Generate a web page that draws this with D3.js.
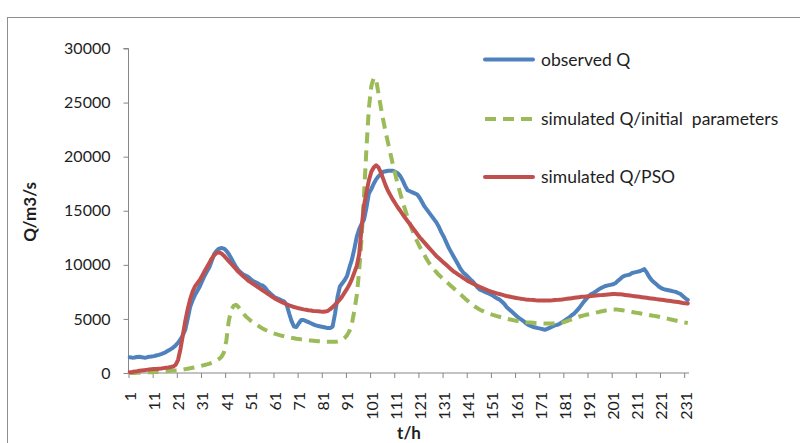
<!DOCTYPE html>
<html>
<head>
<meta charset="utf-8">
<script src="https://cdn.jsdelivr.net/npm/d3@7"></script>
<style>
  html, body { margin: 0; padding: 0; background: #fff; }
  svg { display: block; }
  text { font-family: Lato, "Open Sans", sans-serif; fill: #1e1e1e; }
</style>
</head>
<body>
<svg id="chart" width="800" height="443"></svg>
<script>
// Hourly discharge, t = 1 … 232 h
const observedQ = [
  1450,1420,1430,1480,1500,1460,1420,1440,1500,1520,
  1560,1620,1680,1750,1830,1950,2080,2200,2350,2550,
  2800,3100,3500,4000,5000,6100,6700,7200,7600,8000,
  8500,9000,9400,9800,10400,11000,11300,11500,11550,11500,
  11300,11000,10600,10200,9800,9500,9300,9100,9000,8900,
  8700,8500,8400,8300,8150,8100,7900,7600,7400,7200,
  7000,6900,6800,6700,6600,6300,5500,4800,4300,4250,
  4600,4900,4900,4800,4700,4600,4500,4400,4350,4300,
  4250,4200,4150,4150,4300,5500,7000,8000,8300,8600,
  9000,9800,10500,11500,12600,13300,13800,14200,15300,16600,
  17000,17500,17900,18200,18400,18600,18650,18700,18700,18700,
  18600,18450,18200,17800,17300,16900,16800,16700,16600,16500,
  16200,15800,15400,15100,14800,14500,14200,13900,13500,13000,
  12600,12100,11600,11200,10800,10400,10000,9600,9300,9100,
  8900,8650,8450,8200,7900,7700,7600,7500,7400,7300,
  7200,7050,6900,6800,6600,6400,6100,5900,5700,5500,
  5300,5100,4950,4800,4600,4450,4350,4250,4200,4150,
  4100,4050,4000,4100,4200,4300,4400,4450,4550,4700,
  4850,5000,5150,5350,5500,5750,6000,6300,6600,6850,
  7100,7300,7400,7550,7700,7850,7950,8050,8100,8150,
  8200,8300,8500,8700,8900,9000,9050,9100,9250,9300,
  9350,9400,9500,9600,9300,8900,8600,8400,8200,8000,
  7850,7750,7700,7650,7600,7550,7500,7400,7300,7100,
  6900,6750
];

const simulatedInitial = [
  0,0,10,20,30,40,50,60,70,80,
  90,100,110,120,140,160,180,200,220,240,
  260,290,320,360,400,440,480,520,560,620,
  680,740,800,870,950,1050,1150,1300,1500,1900,
  3000,4800,5800,6200,6300,6100,5800,5500,5250,5050,
  4850,4700,4550,4400,4250,4120,4000,3900,3800,3720,
  3640,3570,3500,3440,3390,3340,3290,3250,3210,3170,
  3140,3110,3080,3050,3020,3000,2980,2960,2940,2920,
  2900,2890,2880,2880,2880,2890,2920,2980,3080,3250,
  3500,3900,4600,5800,7200,9500,12500,16500,20800,24500,
  26500,27300,27100,25800,24500,23300,22200,21200,20200,19200,
  18300,17400,16600,15800,15100,14400,13800,13200,12650,12150,
  11700,11300,10900,10500,10150,9850,9550,9300,9050,8850,
  8650,8450,8250,8050,7850,7650,7450,7250,7050,6850,
  6650,6450,6280,6120,5980,5850,5750,5650,5560,5480,
  5400,5330,5260,5200,5140,5080,5020,4970,4920,4870,
  4830,4790,4760,4730,4700,4680,4660,4640,4620,4610,
  4600,4590,4580,4580,4580,4580,4590,4600,4620,4660,
  4720,4800,4880,4960,5040,5120,5200,5270,5330,5380,
  5430,5480,5530,5580,5630,5680,5730,5780,5820,5860,
  5880,5880,5860,5830,5800,5760,5720,5680,5640,5600,
  5560,5520,5480,5440,5400,5360,5320,5280,5240,5200,
  5150,5100,5050,5000,4950,4900,4850,4800,4750,4700,
  4660,4620
];

const simulatedPSO = [
  80,100,130,160,200,230,260,290,320,340,
  360,380,400,420,450,480,510,550,600,750,
  1200,2200,3500,4800,5900,6800,7500,8000,8300,8600,
  9000,9400,9800,10200,10600,10900,11100,11150,11050,10850,
  10600,10350,10100,9850,9600,9350,9150,8950,8750,8550,
  8400,8250,8100,7950,7800,7650,7500,7350,7200,7050,
  6900,6780,6660,6550,6450,6350,6260,6180,6100,6040,
  5980,5930,5880,5840,5800,5770,5740,5720,5700,5680,
  5670,5680,5750,5900,6100,6300,6550,6800,7100,7450,
  7800,8200,8700,9300,9900,11000,13500,15500,16700,17800,
  18600,19000,19200,19000,18500,17900,17300,16800,16400,16000,
  15650,15300,15000,14650,14350,14050,13750,13450,13150,12850,
  12550,12300,12050,11800,11550,11300,11050,10800,10600,10400,
  10200,10000,9800,9600,9400,9250,9100,8950,8800,8650,
  8500,8400,8280,8160,8050,7950,7850,7750,7660,7580,
  7500,7430,7360,7300,7240,7180,7120,7070,7020,6980,
  6940,6900,6860,6830,6800,6780,6760,6740,6720,6710,
  6700,6700,6700,6700,6710,6720,6740,6760,6780,6800,
  6830,6860,6890,6920,6950,6980,7010,7040,7060,7080,
  7100,7120,7140,7160,7180,7200,7220,7240,7260,7280,
  7300,7300,7290,7270,7250,7220,7190,7160,7130,7100,
  7070,7040,7010,6980,6950,6920,6890,6860,6830,6800,
  6770,6740,6710,6680,6650,6620,6590,6560,6520,6480,
  6450,6420
];

const yTicks = [0, 5000, 10000, 15000, 20000, 25000, 30000];
const xLabelHours = [1,11,21,31,41,51,61,71,81,91,101,111,121,131,141,151,161,171,181,191,201,211,221,231];

const seriesNames = ["observed Q", "simulated Q/initial  parameters", "simulated Q/PSO"];
const seriesColors = ["#4f81bd", "#9bbb59", "#c0504d"];

const svg = d3.select("#chart");

// outer chart frame
svg.append("rect")
  .attr("x", 7.5).attr("y", 17.5)
  .attr("width", 900).attr("height", 600)
  .attr("fill", "none").attr("stroke", "#8e8e8e").attr("stroke-width", 1);

const plot = { left: 128.5, right: 689, top: 48.5, bottom: 373 };
const nHours = observedQ.length;

// category boundaries: hour h occupies [h-1, h]
const xb = d3.scaleLinear().domain([0, nHours]).range([plot.left, plot.right]);
const y = d3.scaleLinear().domain([0, 30000]).range([plot.bottom, plot.top]);

// y axis
const yAxis = svg.append("g")
  .attr("transform", `translate(${plot.left},0)`)
  .call(d3.axisLeft(y).tickValues(yTicks).tickSize(5).tickPadding(13).tickFormat(d3.format("d")));
yAxis.select(".domain").attr("stroke", "#868686").attr("d", `M-5,${y(30000)}H0V${y(0)}`);
yAxis.selectAll(".tick line").attr("stroke", "#868686");
yAxis.selectAll(".tick text").style("font-size", "16px").attr("fill", "#1e1e1e");

// x axis tick marks between every ten hours
const xTickAxis = svg.append("g")
  .attr("transform", `translate(0,${plot.bottom})`)
  .call(d3.axisBottom(xb).tickValues(d3.range(0, nHours, 10)).tickSize(5).tickFormat(""));
xTickAxis.select(".domain").attr("stroke", "#868686").attr("d", `M${plot.left},0H${plot.right}`);
xTickAxis.selectAll(".tick line").attr("stroke", "#868686");

// x labels, centred on their hour and rotated
const xLabelAxis = svg.append("g")
  .attr("transform", `translate(0,${plot.bottom})`)
  .call(d3.axisBottom(xb).tickValues(xLabelHours.map(h => h - 0.5)).tickSize(0).tickFormat(d => d + 0.5));
xLabelAxis.select(".domain").remove();
xLabelAxis.selectAll(".tick text")
  .style("font-size", "16px")
  .attr("fill", "#1e1e1e")
  .attr("text-anchor", "end")
  .attr("transform", "translate(0,19) rotate(-90)")
  .attr("x", 0).attr("y", 0).attr("dy", "0.36em");

// axis titles
svg.append("text")
  .attr("transform", `translate(30,212) rotate(-90)`)
  .attr("text-anchor", "middle").attr("dy", "0.35em")
  .style("font-size", "17px").style("font-weight", "bold")
  .text("Q/m3/s");
svg.append("text")
  .attr("x", 409).attr("y", 433)
  .attr("text-anchor", "middle").attr("dy", "0.35em")
  .style("font-size", "17px").style("font-weight", "bold")
  .text("t/h");

// series
const line = d3.line()
  .x((d, i) => xb(i + 0.5))
  .y(d => y(d));

const seriesData = [observedQ, simulatedInitial, simulatedPSO];
const dashes = [null, "11,7", null];

seriesData.forEach((vals, k) => {
  svg.append("path")
    .datum(vals)
    .attr("d", line)
    .attr("fill", "none")
    .attr("stroke", seriesColors[k])
    .attr("stroke-width", 4)
    .attr("stroke-linejoin", "round")
    .attr("stroke-linecap", k === 1 ? "butt" : "round")
    .attr("stroke-dasharray", dashes[k]);
});

// legend
const legendY = [59.5, 119, 177];
const legend = svg.append("g");
seriesNames.forEach((name, k) => {
  legend.append("line")
    .attr("x1", 485).attr("x2", 533)
    .attr("y1", legendY[k]).attr("y2", legendY[k])
    .attr("stroke", seriesColors[k])
    .attr("stroke-width", 4)
    .attr("stroke-linecap", k === 1 ? "butt" : "round")
    .attr("stroke-dasharray", k === 1 ? "11,7" : null);
  legend.append("text")
    .attr("x", 541).attr("y", legendY[k])
    .attr("dy", "0.35em")
    .style("font-size", "17.5px")
    .style("white-space", "pre")
    .text(name);
});
</script>
</body>
</html>
